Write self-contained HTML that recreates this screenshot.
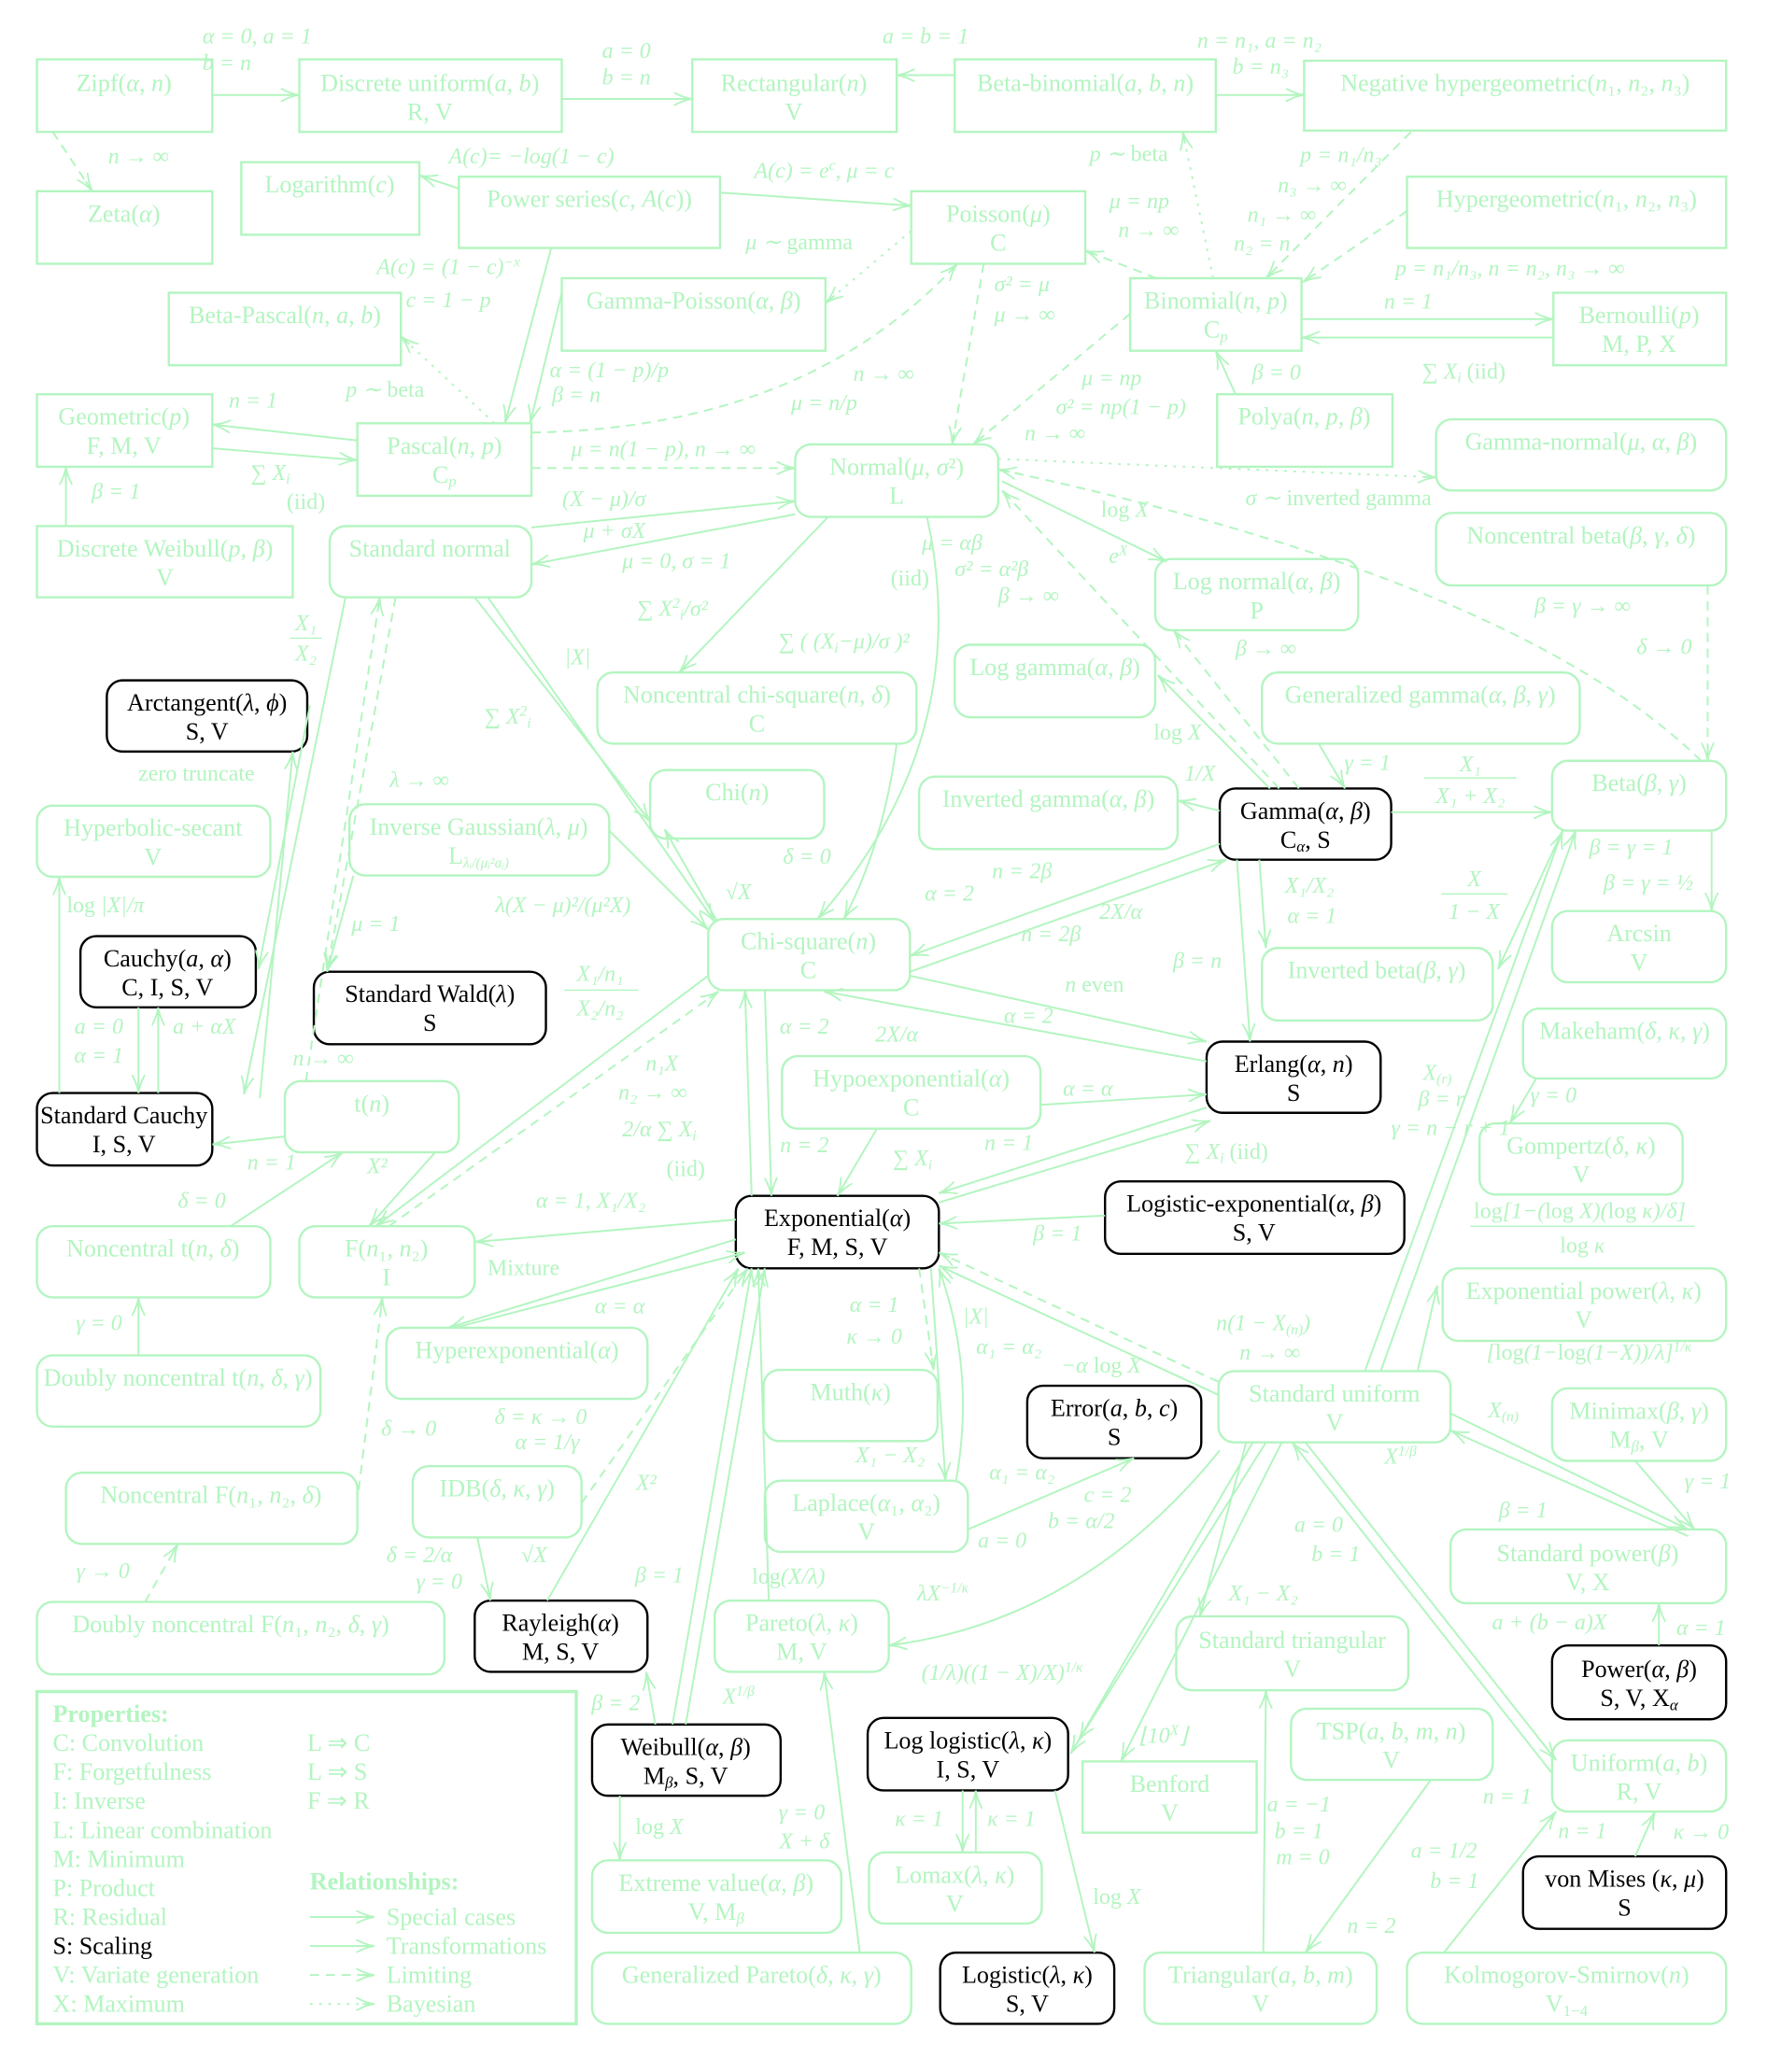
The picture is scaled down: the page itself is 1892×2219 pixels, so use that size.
<!DOCTYPE html>
<html><head><meta charset="utf-8"><style>
html,body{margin:0;padding:0;background:#fff}
svg{display:block}
text{font-family:"Liberation Serif",serif;font-size:18.5px;fill:#b3f5c0;text-anchor:middle}
g.i text{font-size:17px}
.k{fill:#000}
.i{font-style:italic}
.l{text-anchor:start}
.b{fill:none;stroke:#b3f5c0;stroke-width:1.7}
.bk{fill:none;stroke:#000;stroke-width:1.7}
.e{fill:none;stroke:#b3f5c0;stroke-width:1.4;marker-end:url(#a)}
.d{stroke-dasharray:7 5}
.o{stroke-dasharray:2 5}
</style></head><body>
<svg width="1892" height="2219" viewBox="0 0 1340 1571.5" xmlns="http://www.w3.org/2000/svg">
<defs><marker id="a" viewBox="0 0 14 10" refX="14" refY="5" markerWidth="14" markerHeight="10" markerUnits="userSpaceOnUse" orient="auto"><path d="M0,0 Q7,4 14,5 Q7,6 0,10 M5,5 L14,5" fill="none" stroke="#b3f5c0" stroke-width="1.3"/></marker></defs>

<!-- nodes -->
<g>
<rect class="b" x="28" y="45" width="133" height="55"/><text x="94" y="69">Zipf(<tspan class="i">α</tspan>, <tspan class="i">n</tspan>)</text>
<rect class="b" x="227" y="45" width="199" height="55"/><text x="326" y="69">Discrete uniform(<tspan class="i">a</tspan>, <tspan class="i">b</tspan>)</text><text x="326" y="91">R, V</text>
<rect class="b" x="525" y="45" width="155" height="55"/><text x="602" y="69">Rectangular(<tspan class="i">n</tspan>)</text><text x="602" y="91">V</text>
<rect class="b" x="724" y="45" width="198" height="55"/><text x="823" y="69">Beta-binomial(<tspan class="i">a</tspan>, <tspan class="i">b</tspan>, <tspan class="i">n</tspan>)</text>
<rect class="b" x="989" y="46" width="320" height="53"/><text x="1149" y="69">Negative hypergeometric(<tspan class="i">n</tspan>₁, <tspan class="i">n</tspan>₂, <tspan class="i">n</tspan>₃)</text>
<rect class="b" x="28" y="145" width="133" height="55"/><text x="94" y="168">Zeta(<tspan class="i">α</tspan>)</text>
<rect class="b" x="183" y="123" width="135" height="55"/><text x="250" y="146">Logarithm(<tspan class="i">c</tspan>)</text>
<rect class="b" x="348" y="134" width="198" height="54"/><text x="447" y="157">Power series(<tspan class="i">c</tspan>, <tspan class="i">A</tspan>(<tspan class="i">c</tspan>))</text>
<rect class="b" x="691" y="145" width="132" height="55"/><text x="757" y="168">Poisson(<tspan class="i">μ</tspan>)</text><text x="757" y="190">C</text>
<rect class="b" x="1067" y="134" width="242" height="54"/><text x="1188" y="157">Hypergeometric(<tspan class="i">n</tspan>₁, <tspan class="i">n</tspan>₂, <tspan class="i">n</tspan>₃)</text>
<rect class="b" x="128" y="222" width="176" height="55"/><text x="216" y="245">Beta-Pascal(<tspan class="i">n</tspan>, <tspan class="i">a</tspan>, <tspan class="i">b</tspan>)</text>
<rect class="b" x="426" y="211" width="200" height="55"/><text x="526" y="234">Gamma-Poisson(<tspan class="i">α</tspan>, <tspan class="i">β</tspan>)</text>
<rect class="b" x="857" y="211" width="130" height="55"/><text x="922" y="234">Binomial(<tspan class="i">n</tspan>, <tspan class="i">p</tspan>)</text><text x="922" y="256">C<tspan class="i" font-size="12" dy="3">p</tspan></text>
<rect class="b" x="1178" y="222" width="131" height="55"/><text x="1243" y="245">Bernoulli(<tspan class="i">p</tspan>)</text><text x="1243" y="267">M, P, X</text>
<rect class="b" x="28" y="299" width="133" height="55"/><text x="94" y="322">Geometric(<tspan class="i">p</tspan>)</text><text x="94" y="344">F, M, V</text>
<rect class="b" x="271" y="321" width="132" height="55"/><text x="337" y="344">Pascal(<tspan class="i">n</tspan>, <tspan class="i">p</tspan>)</text><text x="337" y="366">C<tspan class="i" font-size="12" dy="3">p</tspan></text>
<rect class="b" x="923" y="299" width="133" height="55"/><text x="989" y="322">Polya(<tspan class="i">n</tspan>, <tspan class="i">p</tspan>, <tspan class="i">β</tspan>)</text>
<rect class="b" x="603" y="337" width="154" height="55" rx="12"/><text x="680" y="360">Normal(<tspan class="i">μ</tspan>, <tspan class="i">σ</tspan>²)</text><text x="680" y="382">L</text>
<rect class="b" x="1089" y="318" width="220" height="54" rx="12"/><text x="1199" y="341">Gamma-normal(<tspan class="i">μ</tspan>, <tspan class="i">α</tspan>, <tspan class="i">β</tspan>)</text>
<rect class="b" x="28" y="399" width="194" height="54"/><text x="125" y="422">Discrete Weibull(<tspan class="i">p</tspan>, <tspan class="i">β</tspan>)</text><text x="125" y="444">V</text>
<rect class="b" x="250" y="399" width="153" height="54" rx="12"/><text x="326" y="422">Standard normal</text>
<rect class="b" x="1089" y="389" width="220" height="55" rx="12"/><text x="1199" y="412">Noncentral beta(<tspan class="i">β</tspan>, <tspan class="i">γ</tspan>, <tspan class="i">δ</tspan>)</text>
<rect class="b" x="876" y="424" width="154" height="54" rx="12"/><text x="953" y="447">Log normal(<tspan class="i">α</tspan>, <tspan class="i">β</tspan>)</text><text x="953" y="469">P</text>
<rect class="b" x="724" y="489" width="152" height="55" rx="12"/><text x="800" y="512">Log gamma(<tspan class="i">α</tspan>, <tspan class="i">β</tspan>)</text>
<rect class="b" x="957" y="510" width="241" height="54" rx="12"/><text x="1077" y="533">Generalized gamma(<tspan class="i">α</tspan>, <tspan class="i">β</tspan>, <tspan class="i">γ</tspan>)</text>
<rect class="b" x="453" y="510" width="242" height="54" rx="12"/><text x="574" y="533">Noncentral chi-square(<tspan class="i">n</tspan>, <tspan class="i">δ</tspan>)</text><text x="574" y="555">C</text>
<rect class="bk" x="81" y="516" width="152" height="54" rx="12"/><text class="k" x="157" y="539">Arctangent(<tspan class="i">λ</tspan>, <tspan class="i">ϕ</tspan>)</text><text class="k" x="157" y="561">S, V</text>
<rect class="b" x="493" y="584" width="132" height="52" rx="12"/><text x="559" y="607">Chi(<tspan class="i">n</tspan>)</text>
<rect class="b" x="697" y="589" width="196" height="55" rx="12"/><text x="795" y="612">Inverted gamma(<tspan class="i">α</tspan>, <tspan class="i">β</tspan>)</text>
<rect class="bk" x="925" y="598" width="130" height="54" rx="12"/><text class="k" x="990" y="621">Gamma(<tspan class="i">α</tspan>, <tspan class="i">β</tspan>)</text><text class="k" x="990" y="643">C<tspan class="i" font-size="12" dy="3">α</tspan><tspan dy="-3">, S</tspan></text>
<rect class="b" x="1177" y="577" width="132" height="53" rx="12"/><text x="1243" y="600">Beta(<tspan class="i">β</tspan>, <tspan class="i">γ</tspan>)</text>
<rect class="b" x="28" y="611" width="177" height="54" rx="12"/><text x="116" y="634">Hyperbolic-secant</text><text x="116" y="656">V</text>
<rect class="b" x="265" y="610" width="197" height="54" rx="12"/><text x="363" y="633">Inverse Gaussian(<tspan class="i">λ</tspan>, <tspan class="i">μ</tspan>)</text><text x="363" y="655">L<tspan class="i" font-size="11" dy="3">λᵢ/(μᵢ²aᵢ)</tspan></text>
<rect class="b" x="537" y="697" width="153" height="54" rx="12"/><text x="613" y="720">Chi-square(<tspan class="i">n</tspan>)</text><text x="613" y="742">C</text>
<rect class="b" x="1177" y="691" width="132" height="54" rx="12"/><text x="1243" y="714">Arcsin</text><text x="1243" y="736">V</text>
<rect class="bk" x="61" y="710" width="133" height="54" rx="12"/><text class="k" x="127" y="733">Cauchy(<tspan class="i">a</tspan>, <tspan class="i">α</tspan>)</text><text class="k" x="127" y="755">C, I, S, V</text>
<rect class="bk" x="238" y="737" width="176" height="55" rx="12"/><text class="k" x="326" y="760">Standard Wald(<tspan class="i">λ</tspan>)</text><text class="k" x="326" y="782">S</text>
<rect class="b" x="957" y="719" width="175" height="55" rx="12"/><text x="1044" y="742">Inverted beta(<tspan class="i">β</tspan>, <tspan class="i">γ</tspan>)</text>
<rect class="b" x="1155" y="765" width="154" height="53" rx="12"/><text x="1232" y="788">Makeham(<tspan class="i">δ</tspan>, <tspan class="i">κ</tspan>, <tspan class="i">γ</tspan>)</text>
<rect class="bk" x="915" y="790" width="132" height="54" rx="12"/><text class="k" x="981" y="813">Erlang(<tspan class="i">α</tspan>, <tspan class="i">n</tspan>)</text><text class="k" x="981" y="835">S</text>
<rect class="b" x="593" y="801" width="196" height="55" rx="12"/><text x="691" y="824">Hypoexponential(<tspan class="i">α</tspan>)</text><text x="691" y="846">C</text>
<rect class="b" x="216" y="820" width="132" height="54" rx="12"/><text x="282" y="843">t(<tspan class="i">n</tspan>)</text>
<rect class="bk" x="28" y="829" width="133" height="55" rx="12"/><text class="k" x="94" y="852">Standard Cauchy</text><text class="k" x="94" y="874">I, S, V</text>
<rect class="b" x="1122" y="852" width="154" height="54" rx="12"/><text x="1199" y="875">Gompertz(<tspan class="i">δ</tspan>, <tspan class="i">κ</tspan>)</text><text x="1199" y="897">V</text>
<rect class="bk" x="558" y="907" width="154" height="55" rx="12"/><text class="k" x="635" y="930">Exponential(<tspan class="i">α</tspan>)</text><text class="k" x="635" y="952">F, M, S, V</text>
<rect class="bk" x="838" y="896" width="227" height="55" rx="12"/><text class="k" x="951" y="919">Logistic-exponential(<tspan class="i">α</tspan>, <tspan class="i">β</tspan>)</text><text class="k" x="951" y="941">S, V</text>
<rect class="b" x="28" y="930" width="177" height="54" rx="12"/><text x="116" y="953">Noncentral t(<tspan class="i">n</tspan>, <tspan class="i">δ</tspan>)</text>
<rect class="b" x="227" y="930" width="133" height="54" rx="12"/><text x="293" y="953">F(<tspan class="i">n</tspan>₁, <tspan class="i">n</tspan>₂)</text><text x="293" y="975">I</text>
<rect class="b" x="1094" y="962" width="215" height="55" rx="12"/><text x="1201" y="985">Exponential power(<tspan class="i">λ</tspan>, <tspan class="i">κ</tspan>)</text><text x="1201" y="1007">V</text>
<rect class="b" x="293" y="1007" width="198" height="54" rx="12"/><text x="392" y="1030">Hyperexponential(<tspan class="i">α</tspan>)</text>
<rect class="b" x="28" y="1028" width="215" height="54" rx="12"/><text x="135" y="1051">Doubly noncentral t(<tspan class="i">n</tspan>, <tspan class="i">δ</tspan>, <tspan class="i">γ</tspan>)</text>
<rect class="b" x="579" y="1039" width="132" height="54" rx="12"/><text x="645" y="1062">Muth(<tspan class="i">κ</tspan>)</text>
<rect class="b" x="924" y="1040" width="176" height="54" rx="12"/><text x="1012" y="1063">Standard uniform</text><text x="1012" y="1085">V</text>
<rect class="bk" x="779" y="1051" width="132" height="55" rx="12"/><text class="k" x="845" y="1074">Error(<tspan class="i">a</tspan>, <tspan class="i">b</tspan>, <tspan class="i">c</tspan>)</text><text class="k" x="845" y="1096">S</text>
<rect class="b" x="1177" y="1053" width="132" height="55" rx="12"/><text x="1243" y="1076">Minimax(<tspan class="i">β</tspan>, <tspan class="i">γ</tspan>)</text><text x="1243" y="1098">M<tspan class="i" font-size="12" dy="3">β</tspan><tspan dy="-3">, V</tspan></text>
<rect class="b" x="313" y="1112" width="128" height="54" rx="12"/><text x="377" y="1135">IDB(<tspan class="i">δ</tspan>, <tspan class="i">κ</tspan>, <tspan class="i">γ</tspan>)</text>
<rect class="b" x="50" y="1117" width="221" height="54" rx="12"/><text x="160" y="1140">Noncentral F(<tspan class="i">n</tspan>₁, <tspan class="i">n</tspan>₂, <tspan class="i">δ</tspan>)</text>
<rect class="b" x="580" y="1123" width="154" height="54" rx="12"/><text x="657" y="1146">Laplace(<tspan class="i">α</tspan>₁, <tspan class="i">α</tspan>₂)</text><text x="657" y="1168">V</text>
<rect class="b" x="1100" y="1160" width="209" height="56" rx="12"/><text x="1204" y="1184">Standard power(<tspan class="i">β</tspan>)</text><text x="1204" y="1206">V, X</text>
<rect class="b" x="28" y="1215" width="309" height="55" rx="12"/><text x="175" y="1238">Doubly noncentral F(<tspan class="i">n</tspan>₁, <tspan class="i">n</tspan>₂, <tspan class="i">δ</tspan>, <tspan class="i">γ</tspan>)</text>
<rect class="bk" x="360" y="1214" width="131" height="54" rx="12"/><text class="k" x="425" y="1237">Rayleigh(<tspan class="i">α</tspan>)</text><text class="k" x="425" y="1259">M, S, V</text>
<rect class="b" x="542" y="1214" width="132" height="54" rx="12"/><text x="608" y="1237">Pareto(<tspan class="i">λ</tspan>, <tspan class="i">κ</tspan>)</text><text x="608" y="1259">M, V</text>
<rect class="b" x="892" y="1226" width="176" height="56" rx="12"/><text x="980" y="1250">Standard triangular</text><text x="980" y="1272">V</text>
<rect class="bk" x="1177" y="1248" width="132" height="56" rx="12"/><text class="k" x="1243" y="1272">Power(<tspan class="i">α</tspan>, <tspan class="i">β</tspan>)</text><text class="k" x="1243" y="1294">S, V, X<tspan class="i" font-size="12" dy="3">α</tspan></text>
<rect class="bk" x="449" y="1308" width="143" height="54" rx="12"/><text class="k" x="520" y="1331">Weibull(<tspan class="i">α</tspan>, <tspan class="i">β</tspan>)</text><text class="k" x="520" y="1353">M<tspan class="i" font-size="12" dy="3">β</tspan><tspan dy="-3">, S, V</tspan></text>
<rect class="bk" x="658" y="1303" width="152" height="55" rx="12"/><text class="k" x="734" y="1326">Log logistic(<tspan class="i">λ</tspan>, <tspan class="i">κ</tspan>)</text><text class="k" x="734" y="1348">I, S, V</text>
<rect class="b" x="821" y="1336" width="132" height="54"/><text x="887" y="1359">Benford</text><text x="887" y="1381">V</text>
<rect class="b" x="979" y="1296" width="153" height="54" rx="12"/><text x="1055" y="1319">TSP(<tspan class="i">a</tspan>, <tspan class="i">b</tspan>, <tspan class="i">m</tspan>, <tspan class="i">n</tspan>)</text><text x="1055" y="1341">V</text>
<rect class="b" x="1177" y="1320" width="132" height="54" rx="12"/><text x="1243" y="1343">Uniform(<tspan class="i">a</tspan>, <tspan class="i">b</tspan>)</text><text x="1243" y="1365">R, V</text>
<rect class="b" x="449" y="1411" width="189" height="55" rx="12"/><text x="543" y="1434">Extreme value(<tspan class="i">α</tspan>, <tspan class="i">β</tspan>)</text><text x="543" y="1456">V, M<tspan class="i" font-size="12" dy="3">β</tspan></text>
<rect class="b" x="659" y="1405" width="131" height="54" rx="12"/><text x="724" y="1428">Lomax(<tspan class="i">λ</tspan>, <tspan class="i">κ</tspan>)</text><text x="724" y="1450">V</text>
<rect class="bk" x="1155" y="1408" width="154" height="55" rx="12"/><text class="k" x="1232" y="1431">von Mises (<tspan class="i">κ</tspan>, <tspan class="i">μ</tspan>)</text><text class="k" x="1232" y="1453">S</text>
<rect class="b" x="449" y="1481" width="242" height="54" rx="12"/><text x="570" y="1504">Generalized Pareto(<tspan class="i">δ</tspan>, <tspan class="i">κ</tspan>, <tspan class="i">γ</tspan>)</text>
<rect class="bk" x="713" y="1481" width="132" height="54" rx="12"/><text class="k" x="779" y="1504">Logistic(<tspan class="i">λ</tspan>, <tspan class="i">κ</tspan>)</text><text class="k" x="779" y="1526">S, V</text>
<rect class="b" x="868" y="1481" width="176" height="54" rx="12"/><text x="956" y="1504">Triangular(<tspan class="i">a</tspan>, <tspan class="i">b</tspan>, <tspan class="i">m</tspan>)</text><text x="956" y="1526">V</text>
<rect class="b" x="1067" y="1481" width="242" height="54" rx="12"/><text x="1188" y="1504">Kolmogorov-Smirnov(<tspan class="i">n</tspan>)</text><text x="1188" y="1526">V<tspan font-size="12" dy="3">1−4</tspan></text>
</g>

<!-- legend -->
<rect x="28" y="1283" width="409" height="252" fill="none" stroke="#b3f5c0" stroke-width="2.4"/>
<g>
<text class="l" x="40" y="1306" font-weight="bold">Properties:</text>
<text class="l" x="40" y="1328">C: Convolution</text>
<text class="l" x="40" y="1350">F: Forgetfulness</text>
<text class="l" x="40" y="1372">I: Inverse</text>
<text class="l" x="40" y="1394">L: Linear combination</text>
<text class="l" x="40" y="1416">M: Minimum</text>
<text class="l" x="40" y="1438">P: Product</text>
<text class="l" x="40" y="1460">R: Residual</text>
<text class="l k" x="40" y="1482">S: Scaling</text>
<text class="l" x="40" y="1504">V: Variate generation</text>
<text class="l" x="40" y="1526">X: Maximum</text>
<text class="l" x="233" y="1328">L ⇒ C</text>
<text class="l" x="233" y="1350">L ⇒ S</text>
<text class="l" x="233" y="1372">F ⇒ R</text>
<text class="l" x="235" y="1433" font-weight="bold">Relationships:</text>
<text class="l" x="293" y="1460">Special cases</text>
<text class="l" x="293" y="1482">Transformations</text>
<text class="l" x="293" y="1504">Limiting</text>
<text class="l" x="293" y="1526">Bayesian</text>
</g>
<path class="e" d="M235,1454 H284"/><path class="e" d="M235,1476 H284"/><path class="e d" d="M235,1498 H284"/><path class="e o" d="M235,1520 H284"/>

<!-- edges -->
<g>
<path class="e" d="M161,72 H227"/>
<path class="e" d="M426,75 H525"/>
<path class="e" d="M724,57 H680"/>
<path class="e" d="M922,72 H989"/>
<path class="e d" d="M40,100 L70,145"/>
<path class="e" d="M348,143 L318,133"/>
<path class="e" d="M546,146 L691,156"/>
<path class="e o" d="M691,175 L626,230"/>
<path class="e" d="M418,188 L383,321"/>
<path class="e" d="M426,222 L402,321"/>
<path class="e o" d="M375,321 L304,255"/>
<path class="e d" d="M403,328 Q610,325 726,200"/>
<path class="e" d="M271,334 L161,322"/>
<path class="e" d="M161,340 L271,349"/>
<path class="e d" d="M403,355 H603"/>
<path class="e" d="M50,399 V354"/>
<path class="e o" d="M920,211 L897,100"/>
<path class="e d" d="M1070,100 L960,211"/>
<path class="e d" d="M1067,160 L988,214"/>
<path class="e d" d="M877,211 L823,190"/>
<path class="e" d="M987,242 H1178"/>
<path class="e" d="M1178,256 H987"/>
<path class="e" d="M937,299 L922,266"/>
<path class="e d" d="M857,238 L738,337"/>
<path class="e d" d="M746,200 L722,337"/>
<path class="e o" d="M757,348 L1089,362"/>
<path class="e d" d="M1290,577 Q1150,440 757,356"/>
<path class="e d" d="M1295,444 V577"/>
<path class="e" d="M760,365 L885,426"/>
<path class="e d" d="M970,598 L760,372"/>
<path class="e d" d="M985,598 L890,478"/>
<path class="e" d="M1000,564 L1020,598"/>
<path class="e" d="M963,598 L878,512"/>
<path class="e" d="M925,615 L893,607"/>
<path class="e" d="M1055,616 H1177"/>
<path class="e" d="M925,640 L690,725"/>
<path class="e" d="M690,737 L930,652"/>
<path class="e" d="M955,652 L960,719"/>
<path class="e" d="M938,652 L948,790"/>
<path class="e" d="M690,740 L915,790"/>
<path class="e" d="M915,805 L625,752"/>
<path class="e" d="M1185,630 L1136,735"/>
<path class="e" d="M1298,630 V691"/>
<path class="e" d="M403,400 L603,380"/>
<path class="e" d="M603,390 L403,428"/>
<path class="e" d="M628,392 L515,510"/>
<path class="e" d="M703,392 Q740,560 620,697"/>
<path class="e" d="M680,564 Q670,640 640,697"/>
<path class="e" d="M360,453 L493,623"/>
<path class="e" d="M370,453 L542,699"/>
<path class="e" d="M544,699 L504,629"/>
<path class="e" d="M462,630 L537,705"/>
<path class="e" d="M262,453 L185,830"/>
<path class="e" d="M235,535 L196,735"/>
<path class="e" d="M197,833 L222,570"/>
<path class="e d" d="M232,820 L288,453"/>
<path class="e d" d="M300,453 L248,737"/>
<path class="e" d="M268,664 L248,737"/>
<path class="e" d="M216,862 L161,868"/>
<path class="e" d="M330,874 L280,930"/>
<path class="e" d="M175,930 L260,874"/>
<path class="e" d="M105,1028 V984"/>
<path class="e" d="M45,829 V665"/>
<path class="e" d="M105,764 V829"/>
<path class="e" d="M120,829 V764"/>
<path class="e" d="M537,740 L285,930"/>
<path class="e d" d="M295,930 L545,752"/>
<path class="e" d="M558,925 L360,942"/>
<path class="e" d="M570,907 L565,751"/>
<path class="e" d="M580,751 L585,907"/>
<path class="e" d="M665,856 L635,907"/>
<path class="e" d="M789,838 L915,830"/>
<path class="e" d="M915,840 L712,905"/>
<path class="e" d="M712,912 L918,850"/>
<path class="e" d="M838,922 L712,928"/>
<path class="e" d="M558,940 L340,1007"/>
<path class="e" d="M345,1007 L565,950"/>
<path class="e d" d="M924,1048 L712,950"/>
<path class="e" d="M924,1058 L712,960"/>
<path class="e d" d="M697,962 L708,1039"/>
<path class="e" d="M706,962 L717,1123"/>
<path class="e" d="M725,1123 Q740,1040 712,962"/>
<path class="e" d="M734,1160 L860,1106"/>
<path class="e d" d="M441,1140 L567,962"/>
<path class="e" d="M415,1214 L560,962"/>
<path class="e" d="M510,1308 L570,962"/>
<path class="e" d="M520,1308 L580,962"/>
<path class="e" d="M362,1166 L372,1214"/>
<path class="e" d="M497,1308 L490,1268"/>
<path class="e" d="M470,1362 V1411"/>
<path class="e" d="M583,1214 L575,962"/>
<path class="e" d="M925,1100 Q820,1230 674,1248"/>
<path class="e" d="M652,1481 L625,1268"/>
<path class="e" d="M950,1094 L812,1330"/>
<path class="e" d="M960,1094 L818,1320"/>
<path class="e" d="M730,1358 V1405"/>
<path class="e" d="M740,1405 V1358"/>
<path class="e" d="M800,1358 L830,1481"/>
<path class="e" d="M945,1094 L910,1226"/>
<path class="e" d="M972,1094 L850,1336"/>
<path class="e" d="M958,1481 L960,1282"/>
<path class="e" d="M1085,1350 L990,1481"/>
<path class="e" d="M1177,1345 L980,1094"/>
<path class="e" d="M990,1094 L1180,1335"/>
<path class="e" d="M1035,1040 L1185,630"/>
<path class="e" d="M1047,1040 L1195,630"/>
<path class="e" d="M1075,1040 L1090,975"/>
<path class="e" d="M1165,818 L1145,852"/>
<path class="e" d="M1100,1072 L1280,1160"/>
<path class="e" d="M1280,1165 L1100,1085"/>
<path class="e" d="M1240,1108 L1285,1160"/>
<path class="e" d="M1258,1248 V1216"/>
<path class="e" d="M1240,1408 L1255,1374"/>
<path class="e" d="M1095,1481 L1180,1374"/>
<path class="e d" d="M110,1215 L135,1171"/>
<path class="e d" d="M272,1130 L290,984"/>
</g>

<!-- edge labels -->
<g class="i">
<text x="195" y="33">α = 0, a = 1</text><text x="172" y="53">b = n</text>
<text x="475" y="44">a = 0</text><text x="475" y="64">b = n</text>
<text x="702" y="33">a = b = 1</text>
<text x="955" y="36">n = n₁, a = n₂</text><text x="956" y="56">b = n₃</text>
<text x="105" y="124">n → ∞</text>
<text x="403" y="124">A(c)= −log(1 − c)</text>
<text x="625" y="135">A(c) = e<tspan font-size="11" dy="-6">c</tspan><tspan dy="6">, μ = c</tspan></text>
<text x="606" y="189">μ ∼ <tspan font-style="normal">gamma</tspan></text>
<text x="340" y="208">A(c) = (1 − c)<tspan font-size="11" dy="-6">−x</tspan></text>
<text x="340" y="233">c = 1 − p</text>
<text x="462" y="286">α = (1 − p)/p</text><text x="437" y="305">β = n</text>
<text x="292" y="301">p ∼ <tspan font-style="normal">beta</tspan></text>
<text x="670" y="289">n → ∞</text><text x="625" y="311">μ = n/p</text>
<text x="192" y="309">n = 1</text>
<text x="205" y="364">∑ X<tspan font-size="11" dy="3">i</tspan></text><text x="232" y="386" font-style="normal">(iid)</text>
<text x="503" y="346">μ = n(1 − p), n → ∞</text>
<text x="88" y="378">β = 1</text>
<text x="856" y="122">p ∼ <tspan font-style="normal">beta</tspan></text>
<text x="1017" y="123">p = n₁/n₃</text><text x="995" y="146">n₃ → ∞</text><text x="972" y="168">n₁ → ∞</text><text x="957" y="190">n₂ = n</text>
<text x="1145" y="209">p = n₁/n₃, n = n₂, n₃ → ∞</text>
<text x="864" y="158">μ = np</text><text x="871" y="180">n → ∞</text>
<text x="1068" y="234">n = 1</text>
<text x="1110" y="287">∑ X<tspan font-size="11" dy="3">i</tspan><tspan dy="-3" font-style="normal"> (iid)</tspan></text>
<text x="968" y="288">β = 0</text>
<text x="843" y="292">μ = np</text><text x="850" y="314">σ² = np(1 − p)</text><text x="800" y="334">n → ∞</text>
<text x="775" y="221">σ² = μ</text><text x="777" y="244">μ → ∞</text>
<text x="1015" y="383">σ ∼ <tspan font-style="normal">inverted gamma</tspan></text>
<text x="1200" y="465">β = γ → ∞</text><text x="1262" y="496">δ → 0</text>
<text x="853" y="392"><tspan font-style="normal">log</tspan> X</text>
<text x="848" y="427">e<tspan font-size="11" dy="-6">X</tspan></text>
<text x="722" y="417">μ = αβ</text><text x="752" y="437">σ² = α²β</text><text x="780" y="457">β → ∞</text>
<text x="960" y="497">β → ∞</text>
<text x="1037" y="584">γ = 1</text>
<text x="893" y="561"><tspan font-style="normal">log</tspan> X</text>
<text x="910" y="592">1/X</text>
<text x="1115" y="585">X₁</text><path d="M1080,590 H1150" stroke="#b3f5c0" stroke-width="1"/><text x="1115" y="609">X₁ + X₂</text>
<text x="720" y="683">α = 2</text><text x="775" y="666">n = 2β</text>
<text x="850" y="697">2X/α</text><text x="797" y="714">n = 2β</text>
<text x="993" y="677">X₁/X₂</text><text x="995" y="700">α = 1</text>
<text x="908" y="734">β = n</text>
<text x="830" y="752">n <tspan font-style="normal">even</tspan></text>
<text x="780" y="776">α = 2</text>
<text x="1118" y="672">X</text><path d="M1093,678 H1143" stroke="#b3f5c0" stroke-width="1"/><text x="1118" y="697">1 − X</text>
<text x="1237" y="648">β = γ = 1</text><text x="1250" y="675">β = γ = ½</text>
<text x="458" y="384">(X − μ)/σ</text><text x="466" y="408">μ + σX</text><text x="513" y="431">μ = 0, σ = 1</text>
<text x="510" y="467">∑ X<tspan font-size="11" dy="-6">2</tspan><tspan font-size="11" dy="9">i</tspan><tspan dy="-3">/σ²</tspan></text>
<text x="640" y="492">∑ ( (X<tspan font-size="11" dy="3">i</tspan><tspan dy="-3">−μ)/σ )²</tspan></text>
<text x="690" y="444" font-style="normal">(iid)</text>
<text x="612" y="655">δ = 0</text>
<text x="385" y="549">∑ X<tspan font-size="11" dy="-6">2</tspan><tspan font-size="11" dy="9">i</tspan></text>
<text x="438" y="504">|X|</text>
<text x="560" y="682">√X</text>
<text x="427" y="692">λ(X − μ)²/(μ²X)</text>
<text x="232" y="478">X₁</text><path d="M220,484 H244" stroke="#b3f5c0" stroke-width="1"/><text x="232" y="501">X₂</text>
<text x="149" y="592" font-style="normal">zero truncate</text>
<text x="318" y="597">λ → ∞</text>
<text x="285" y="706">μ = 1</text>
<text x="245" y="808">n → ∞</text>
<text x="206" y="887">n = 1</text>
<text x="286" y="890">X²</text>
<text x="153" y="916">δ = 0</text>
<text x="75" y="1009">γ = 0</text>
<text x="80" y="692"><tspan font-style="normal">log</tspan> |X|/π</text>
<text x="75" y="784">a = 0</text><text x="75" y="806">α = 1</text>
<text x="155" y="784">a + αX</text>
<text x="455" y="744">X₁/n₁</text><path d="M428,751 H484" stroke="#b3f5c0" stroke-width="1"/><text x="455" y="770">X₂/n₂</text>
<text x="502" y="812">n₁X</text><text x="495" y="834">n₂ → ∞</text>
<text x="448" y="916">α = 1, X₁/X₂</text>
<text x="610" y="784">α = 2</text><text x="610" y="874">n = 2</text>
<text x="500" y="862">2/α ∑ X<tspan font-size="11" dy="3">i</tspan></text><text x="520" y="892" font-style="normal">(iid)</text>
<text x="692" y="884">∑ X<tspan font-size="11" dy="3">i</tspan></text>
<text x="825" y="831">α = α</text>
<text x="680" y="790">2X/α</text>
<text x="765" y="872">n = 1</text>
<text x="930" y="879">∑ X<tspan font-size="11" dy="3">i</tspan><tspan dy="-3" font-style="normal"> (iid)</tspan></text>
<text x="802" y="941">β = 1</text>
<text x="397" y="967" font-style="normal">Mixture</text><text x="470" y="996">α = α</text>
<text x="958" y="1009">n(1 − X<tspan font-size="11" dy="3">(n)</tspan><tspan dy="-3">)</tspan></text><text x="963" y="1031">n → ∞</text>
<text x="835" y="1041">−α <tspan font-style="normal">log</tspan> X</text>
<text x="663" y="995">α = 1</text><text x="663" y="1019">κ → 0</text>
<text x="740" y="1004">|X|</text><text x="765" y="1027">α₁ = α₂</text>
<text x="675" y="1109">X₁ − X₂</text>
<text x="775" y="1122">α₁ = α₂</text><text x="840" y="1139">c = 2</text><text x="820" y="1159">b = α/2</text><text x="760" y="1174">a = 0</text>
<text x="410" y="1080">δ = κ → 0</text><text x="415" y="1099">α = 1/γ</text>
<text x="490" y="1130">X²</text>
<text x="500" y="1200">β = 1</text>
<text x="318" y="1185">δ = 2/α</text><text x="333" y="1205">γ = 0</text>
<text x="405" y="1185">√X</text>
<text x="467" y="1297">β = 2</text>
<text x="560" y="1292">X<tspan font-size="11" dy="-6">1/β</tspan></text>
<text x="500" y="1391"><tspan font-style="normal">log</tspan> X</text>
<text x="598" y="1201"><tspan font-style="normal">log</tspan>(X/λ)</text>
<text x="715" y="1214">λX<tspan font-size="11" dy="-6">−1/κ</tspan></text>
<text x="608" y="1380">γ = 0</text><text x="610" y="1402">X + δ</text>
<text x="760" y="1274">(1/λ)((1 − X)/X)<tspan font-size="11" dy="-6">1/κ</tspan></text>
<text x="697" y="1385">κ = 1</text><text x="767" y="1385">κ = 1</text>
<text x="847" y="1444"><tspan font-style="normal">log</tspan> X</text>
<text x="958" y="1214">X₁ − X₂</text>
<text x="882" y="1322">⌊10<tspan font-size="11" dy="-6">X</tspan><tspan dy="6">⌋</tspan></text>
<text x="985" y="1374">a = −1</text><text x="985" y="1394">b = 1</text><text x="988" y="1414">m = 0</text>
<text x="1040" y="1466">n = 2</text>
<text x="1000" y="1162">a = 0</text><text x="1013" y="1184">b = 1</text>
<text x="1175" y="1236">a + (b − a)X</text>
<text x="1090" y="819">X<tspan font-size="11" dy="3">(r)</tspan></text><text x="1093" y="839">β = r</text><text x="1100" y="861">γ = n − r + 1</text>
<text x="1198" y="924"><tspan font-style="normal">log</tspan>[1−(<tspan font-style="normal">log</tspan> X)(<tspan font-style="normal">log</tspan> κ)/δ]</text><path d="M1115,930 H1285" stroke="#b3f5c0" stroke-width="1"/><text x="1200" y="950"><tspan font-style="normal">log</tspan> κ</text>
<text x="1205" y="1031">[<tspan font-style="normal">log</tspan>(1−<tspan font-style="normal">log</tspan>(1−X))/λ]<tspan font-size="11" dy="-6">1/κ</tspan></text>
<text x="1178" y="836">γ = 0</text>
<text x="1140" y="1075">X<tspan font-size="11" dy="3">(n)</tspan></text>
<text x="1062" y="1110">X<tspan font-size="11" dy="-6">1/β</tspan></text>
<text x="1155" y="1151">β = 1</text>
<text x="1295" y="1129">γ = 1</text>
<text x="1290" y="1240">α = 1</text>
<text x="1290" y="1395">κ → 0</text>
<text x="1200" y="1394">n = 1</text>
<text x="1143" y="1368">n = 1</text>
<text x="1095" y="1409">a = 1/2</text><text x="1103" y="1432">b = 1</text>
<text x="78" y="1197">γ → 0</text>
<text x="310" y="1089">δ → 0</text>
</g>
</svg>
</body></html>
